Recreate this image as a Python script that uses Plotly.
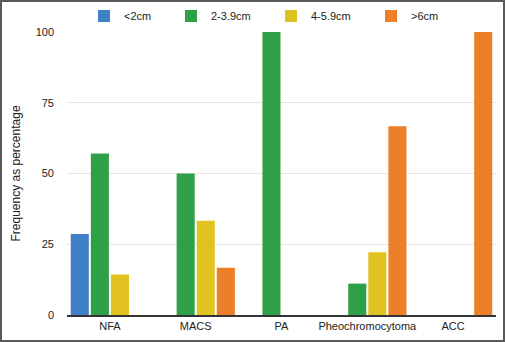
import plotly.graph_objects as go

categories = ["NFA", "MACS", "PA", "Pheochromocytoma", "ACC"]
size_lt2 = [28.6, None, None, None, None]
size_2_39 = [57.1, 50.0, 100.0, 11.1, None]
size_4_59 = [14.3, 33.3, None, 22.2, None]
size_gt6 = [None, 16.7, None, 66.7, 100.0]
series_names = ["<2cm", "2-3.9cm", "4-5.9cm", ">6cm"]
series_colors = ["#3f7fc6", "#2ea047", "#e2c221", "#ec7f27"]
y_ticks = [0, 25, 50, 75, 100]

W, H = 505, 342
ML, MR, MT, MB = 67, 9, 32, 27
pw = W - ML - MR
ph = H - MT - MB

legend_ids = ["legend", "legend2", "legend3", "legend4"]
legend_px = [84, 171, 271, 371]

fig = go.Figure()
for name, vals, col, lid in zip(series_names, [size_lt2, size_2_39, size_4_59, size_gt6],
                                series_colors, legend_ids):
    fig.add_trace(go.Bar(x=categories, y=vals, name=name, legend=lid,
                         marker=dict(color=col, line=dict(width=0))))

fig.add_shape(type="rect", xref="paper", yref="paper",
              x0=-(ML - 1) / pw, x1=1 + (MR - 1) / pw,
              y0=-(MB - 1) / ph, y1=1 + (MT - 1) / ph,
              line=dict(color="#5a5a5a", width=2), layer="above")

legends = {}
for lid, px in zip(legend_ids, legend_px):
    legends[lid] = dict(orientation="h", x=(px - ML) / pw, xanchor="left",
                        y=1 + (MT - 16) / ph, yanchor="middle",
                        font=dict(size=11), bgcolor="rgba(0,0,0,0)")

fig.update_layout(
    width=W, height=H,
    margin=dict(l=ML, r=MR, t=MT, b=MB, autoexpand=False),
    paper_bgcolor="white", plot_bgcolor="white",
    barmode="group", bargap=0.064, bargroupgap=0.1,
    font=dict(family="Liberation Sans, Arial, sans-serif", size=11, color="#222"),
    showlegend=True,
    xaxis=dict(showline=True, linecolor="#333", linewidth=1.5, ticks="",
               tickfont=dict(size=11), fixedrange=True),
    yaxis=dict(range=[0, 100], tickvals=y_ticks, showgrid=True, gridcolor="#e6e6e6",
               zeroline=False, showline=False, ticks="", ticklabelstandoff=12,
               title=dict(text="Frequency as percentage", font=dict(size=12), standoff=12),
               tickfont=dict(size=11)),
    **legends,
)
fig.write_html("out.html", config={"displayModeBar": False},
               post_script="document.body.style.margin='0';document.body.style.overflow='hidden';")
